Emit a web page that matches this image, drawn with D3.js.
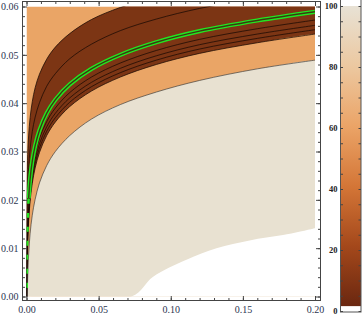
<!DOCTYPE html>
<html>
<head>
<meta charset="utf-8">
<script src="https://cdn.jsdelivr.net/npm/d3@7"></script>
<style>
  body { margin: 0; background: #fff; }
  svg { display: block; }
  .tick text { font-family: "Liberation Serif", serif; }
</style>
</head>
<body>
<svg id="chart" width="362" height="318"></svg>
<script>
// contour lines, [x, y] pairs in data units
// upper edge of the dark band (orange above-left of it)
var edgeUpper = [[0.00001, -0.0016], [0.00005, 0.0096], [0.0001, 0.0145], [0.0002, 0.0193],
  [0.0004, 0.0242], [0.0007, 0.0281], [0.001, 0.0306], [0.0015, 0.0334], [0.0025, 0.0370],
  [0.004, 0.0403], [0.006, 0.0432], [0.009, 0.0460], [0.014, 0.0491], [0.02, 0.0516],
  [0.03, 0.0544], [0.045, 0.0573], [0.065, 0.0598], [0.09, 0.0621]];
// lower edge of the dark band
var edgeLower = [[0.0002, -0.0003], [0.0004, 0.0052], [0.0007, 0.0096], [0.001, 0.0125],
  [0.0015, 0.0157], [0.0025, 0.0197], [0.004, 0.0234], [0.006, 0.0266], [0.009, 0.0298],
  [0.014, 0.0333], [0.02, 0.0361], [0.03, 0.0393], [0.045, 0.0425], [0.065, 0.0454],
  [0.09, 0.0480], [0.12, 0.0503], [0.16, 0.0525], [0.2, 0.0543]];
// top of the pale region
var edgePale = [[0.0004, -0.0021], [0.0007, 0.0025], [0.001, 0.0055], [0.0015, 0.0088],
  [0.0025, 0.0130], [0.004, 0.0168], [0.006, 0.0201], [0.009, 0.0235], [0.014, 0.0271],
  [0.02, 0.0300], [0.03, 0.0333], [0.045, 0.0367], [0.065, 0.0397], [0.09, 0.0423],
  [0.12, 0.0447], [0.16, 0.0471], [0.2, 0.0489]];
// where the pale region gives way to the blank (white) corner
var edgeBlank = [[0.0000, 0.0000], [0.0728, 0.0000], [0.0878, 0.0041], [0.1109, 0.0076],
  [0.1317, 0.0100], [0.1547, 0.0116], [0.1778, 0.0127], [0.1986, 0.0140], [0.2000, 0.0141]];
// inner contour lines of the dark band
var lineTop = [[0.00003, -0.0026], [0.00005, 0.0012], [0.0001, 0.0064], [0.0002, 0.0116],
  [0.0004, 0.0168], [0.0007, 0.0210], [0.001, 0.0237], [0.0015, 0.0267], [0.0025, 0.0305],
  [0.004, 0.0341], [0.006, 0.0371], [0.009, 0.0401], [0.014, 0.0435], [0.02, 0.0461],
  [0.03, 0.0492], [0.045, 0.0522], [0.065, 0.0550], [0.09, 0.0574], [0.12, 0.0596],
  [0.16, 0.0617]];
var lineLow1 = [[0.0001, -0.0028], [0.0002, 0.0026], [0.0004, 0.0081], [0.0007, 0.0125],
  [0.001, 0.0154], [0.0015, 0.0186], [0.0025, 0.0226], [0.004, 0.0263], [0.006, 0.0295],
  [0.009, 0.0327], [0.014, 0.0362], [0.02, 0.0390], [0.03, 0.0422], [0.045, 0.0454],
  [0.065, 0.0483], [0.09, 0.0509], [0.12, 0.0532], [0.16, 0.0554], [0.2, 0.0572]];
var lineLow2 = [[0.0001, -0.0039], [0.0002, 0.0015], [0.0004, 0.0070], [0.0007, 0.0114],
  [0.001, 0.0143], [0.0015, 0.0175], [0.0025, 0.0215], [0.004, 0.0252], [0.006, 0.0284],
  [0.009, 0.0316], [0.014, 0.0351], [0.02, 0.0379], [0.03, 0.0411], [0.045, 0.0443],
  [0.065, 0.0472], [0.09, 0.0498], [0.12, 0.0521], [0.16, 0.0543], [0.2, 0.0561]];
var lineLow3 = [[0.0001, -0.0048], [0.0002, 0.0006], [0.0004, 0.0061], [0.0007, 0.0105],
  [0.001, 0.0134], [0.0015, 0.0166], [0.0025, 0.0206], [0.004, 0.0243], [0.006, 0.0275],
  [0.009, 0.0307], [0.014, 0.0342], [0.02, 0.0370], [0.03, 0.0402], [0.045, 0.0434],
  [0.065, 0.0463], [0.09, 0.0489], [0.12, 0.0512], [0.16, 0.0534], [0.2, 0.0552]];
// highlighted (green) contour; its lowest part is broken up in the picture
var greenLow = [[0.0001, -0.0011], [0.0002, 0.0043], [0.0004, 0.0098], [0.0007, 0.0142],
  [0.001, 0.0171], [0.0015, 0.0203]];
var greenHigh = [[0.0015, 0.0203], [0.0025, 0.0243], [0.004, 0.0280], [0.006, 0.0312],
  [0.009, 0.0344], [0.014, 0.0379], [0.02, 0.0407], [0.03, 0.0439], [0.045, 0.0471],
  [0.065, 0.0500], [0.09, 0.0526], [0.12, 0.0549], [0.16, 0.0571], [0.2, 0.0589]];

var xMajor = [0, 0.05, 0.10, 0.15, 0.20];
var yMajor = [0, 0.01, 0.02, 0.03, 0.04, 0.05, 0.06];
var legendTicks = [0, 20, 40, 60, 80, 100];

var colBrown = "#7c3514", colOrange = "#eaa566", colPale = "#e8e1d1";

var frame = { left: 22.5, right: 320.5, top: 1.5, bottom: 300.5 };
var x = d3.scaleLinear().domain([0, 0.2]).range([26.5, 315]);
var y = d3.scaleLinear().domain([0, 0.06]).range([296.5, 6.5]);

var svg = d3.select("#chart");
var defs = svg.append("defs");

defs.append("clipPath").attr("id", "plotclip")
  .append("rect")
  .attr("x", x(0)).attr("y", y(0.06))
  .attr("width", x(0.2) - x(0)).attr("height", y(0) - y(0.06));

var plot = svg.append("g").attr("clip-path", "url(#plotclip)");

var line = d3.line()
  .x(function (d) { return x(d[0]); })
  .y(function (d) { return y(d[1]); })
  .curve(d3.curveCatmullRom.alpha(0.5));

// closes a curve straight down past the bottom edge
function toBottom(pts) {
  var last = pts[pts.length - 1];
  return pts.concat([[0.215, last[1]], [0.215, -0.006], [pts[0][0], -0.006]]);
}
// band between an upper and a lower curve
function band(upper, lower) {
  var uLast = upper[upper.length - 1], lLast = lower[lower.length - 1];
  return upper.concat([[0.215, uLast[1]], [0.215, lLast[1]]], lower.slice().reverse());
}

plot.append("rect")
  .attr("x", x(0)).attr("y", y(0.06))
  .attr("width", x(0.2) - x(0)).attr("height", y(0) - y(0.06))
  .attr("fill", colOrange);

plot.append("path").attr("d", line(toBottom(edgePale)) + "Z").attr("fill", colPale);
plot.append("path").attr("d", line(toBottom(edgeBlank)) + "Z").attr("fill", "#fff");
plot.append("path").attr("d", line(band(edgeUpper, edgeLower)) + "Z").attr("fill", colBrown);

[edgeUpper, edgeLower, lineTop, lineLow1, lineLow2, lineLow3].forEach(function (c) {
  plot.append("path").attr("d", line(c))
    .attr("fill", "none").attr("stroke", "#1a0a04").attr("stroke-width", 0.9).attr("stroke-opacity", 0.85);
});
plot.append("path").attr("d", line(edgePale))
  .attr("fill", "none").attr("stroke", "#333").attr("stroke-width", 0.8).attr("stroke-opacity", 0.8);

plot.append("path").attr("d", line(greenHigh))
  .attr("fill", "none").attr("stroke", "#22e622").attr("stroke-width", 4.2);
plot.append("path").attr("d", line(greenHigh))
  .attr("fill", "none").attr("stroke", "#3c3a10").attr("stroke-width", 1.4);
plot.append("path").attr("d", line(greenLow))
  .attr("fill", "none").attr("stroke", "#22e622").attr("stroke-width", 2.6)
  .attr("stroke-dasharray", "5,9");

// frame with ticks on all sides
var axisColor = "#444";
function styleAxis(g) {
  g.select(".domain").remove();
  g.selectAll(".tick line").attr("stroke", axisColor);
  g.selectAll(".tick text").attr("fill", "#2b3550").attr("font-size", 10);
}
var xMinor = d3.range(0, 0.2001, 0.01);
var yMinor = d3.range(0, 0.0601, 0.002);

svg.append("g").attr("transform", "translate(0," + frame.bottom + ")")
  .call(d3.axisBottom(x).tickValues(xMinor).tickSize(-2.5).tickFormat("")).call(styleAxis);
svg.append("g").attr("transform", "translate(0," + frame.bottom + ")")
  .call(d3.axisBottom(x).tickValues(xMajor).tickSize(-4.5).tickPadding(5)
    .tickFormat(d3.format(".2f"))).call(styleAxis);
svg.append("g").attr("transform", "translate(0," + frame.top + ")")
  .call(d3.axisTop(x).tickValues(xMinor).tickSize(-2.5).tickFormat("")).call(styleAxis);
svg.append("g").attr("transform", "translate(0," + frame.top + ")")
  .call(d3.axisTop(x).tickValues(xMajor).tickSize(-4.5).tickFormat("")).call(styleAxis);

svg.append("g").attr("transform", "translate(" + frame.left + ",0)")
  .call(d3.axisLeft(y).tickValues(yMinor).tickSize(-2.5).tickFormat("")).call(styleAxis);
svg.append("g").attr("transform", "translate(" + frame.left + ",0)")
  .call(d3.axisLeft(y).tickValues(yMajor).tickSize(-4.5).tickPadding(4)
    .tickFormat(d3.format(".2f"))).call(styleAxis);
svg.append("g").attr("transform", "translate(" + frame.right + ",0)")
  .call(d3.axisRight(y).tickValues(yMinor).tickSize(-2.5).tickFormat("")).call(styleAxis);
svg.append("g").attr("transform", "translate(" + frame.right + ",0)")
  .call(d3.axisRight(y).tickValues(yMajor).tickSize(-4.5).tickFormat("")).call(styleAxis);

svg.append("rect")
  .attr("x", frame.left).attr("y", frame.top)
  .attr("width", frame.right - frame.left).attr("height", frame.bottom - frame.top)
  .attr("fill", "none").attr("stroke", axisColor).attr("stroke-width", 1);

// colour bar legend
var lg = d3.scaleLinear().domain([0, 100]).range([311, 6]);
var barX = 340.5, barW = 20.5;
var ramp = ["#6a2710", "#a4481b", "#d47637", "#eba467", "#ecc8a0", "#e8e2d5"];
var grad = defs.append("linearGradient")
  .attr("id", "ramp").attr("x1", 0).attr("y1", 1).attr("x2", 0).attr("y2", 0);
ramp.forEach(function (c, i) {
  grad.append("stop").attr("offset", i / (ramp.length - 1)).attr("stop-color", c);
});
svg.append("rect").attr("x", barX).attr("y", lg(100)).attr("width", barW)
  .attr("height", lg(1.6) - lg(100)).attr("fill", "url(#ramp)");
svg.append("rect").attr("x", barX).attr("y", -2).attr("width", barW)
  .attr("height", lg(0) + 1 + 2).attr("fill", "none").attr("stroke", "#555").attr("stroke-width", 1);

svg.append("g").attr("transform", "translate(" + barX + ",0)")
  .call(d3.axisLeft(lg).tickValues(d3.range(0, 101, 5)).tickSize(-2.5).tickFormat(""))
  .call(styleAxis);
svg.append("g").attr("transform", "translate(" + barX + ",0)")
  .call(d3.axisLeft(lg).tickValues(legendTicks).tickSize(0).tickPadding(3))
  .call(styleAxis)
  .selectAll(".tick text").attr("font-size", 8.5).attr("font-weight", "bold").attr("fill", "#222");
svg.append("g").attr("transform", "translate(" + (barX + barW) + ",0)")
  .call(d3.axisRight(lg).tickValues(d3.range(0, 101, 5)).tickSize(-2.5).tickFormat(""))
  .call(styleAxis);
</script>
</body>
</html>
